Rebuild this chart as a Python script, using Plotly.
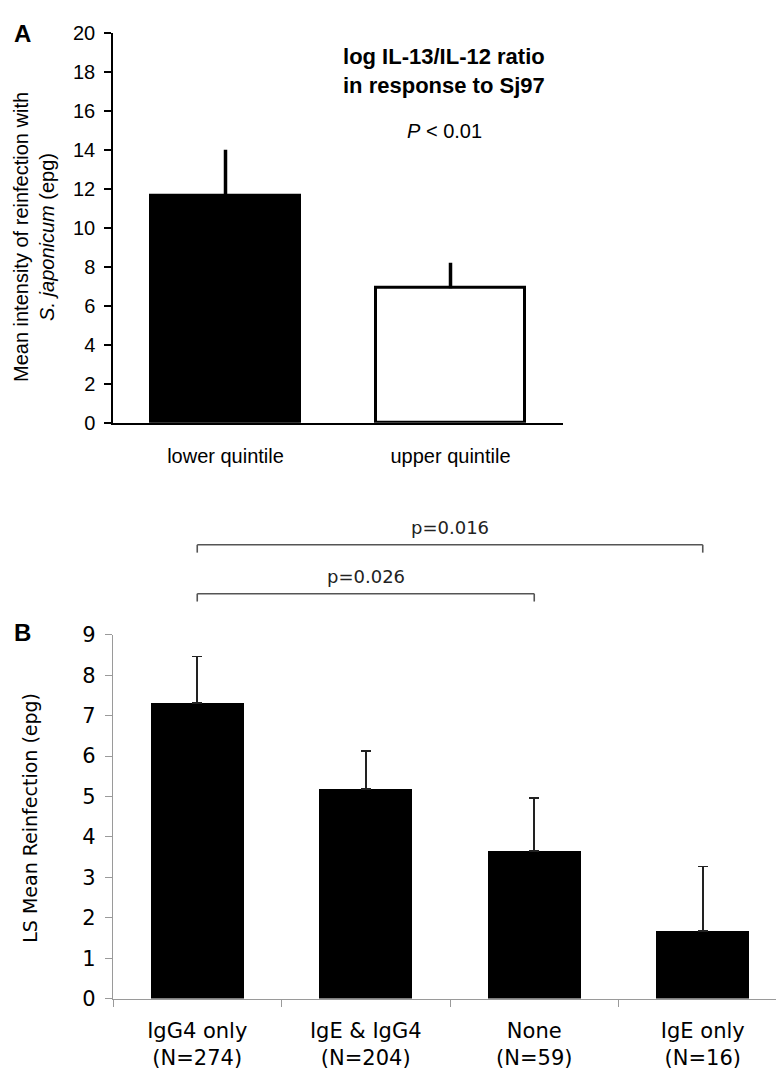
import plotly.graph_objects as go

# ---------------- data ----------------
cats_a = ["lower quintile", "upper quintile"]
mean_a = [11.65, 6.9]
err_top_a = [14.0, 8.2]

cats_b = ["IgG4 only<br>(N=274)", "IgE &amp; IgG4<br>(N=204)", "None<br>(N=59)", "IgE only<br>(N=16)"]
mean_b = [7.32, 5.18, 3.65, 1.68]
err_top_b = [8.47, 6.12, 4.97, 3.27]

# brackets: (from category index, to category index, label, height in panel-B units)
brackets = [(0, 3, "p=0.016", 11.23), (0, 2, "p=0.026", 10.02)]

W, H = 784, 1072
def px(x):
    return x / W
def py(y):
    return 1 - y / H

A_dom_x = [px(105), px(555)]
A_dom_y = [py(412), py(13)]
B_dom_x = [px(105), px(779)]
B_dom_y = [py(1001), py(629)]
B_range = [0, 9]

fig = go.Figure()

fig.add_trace(go.Bar(
    x=cats_a, y=mean_a, xaxis="x", yaxis="y", width=0.66,
    marker=dict(color=["black", "white"], line=dict(color="black", width=3)),
    error_y=dict(type="data", symmetric=False,
                 array=[t - m for t, m in zip(err_top_a, mean_a)],
                 arrayminus=[0] * len(mean_a), thickness=3.5, width=0, color="black"),
    showlegend=False, hoverinfo="skip"))

fig.add_trace(go.Bar(
    x=cats_b, y=mean_b, xaxis="x2", yaxis="y2", width=0.55,
    marker=dict(color="black", line=dict(width=0)),
    error_y=dict(type="data", symmetric=False,
                 array=[t - m for t, m in zip(err_top_b, mean_b)],
                 arrayminus=[0] * len(mean_b), thickness=1.6, width=5, color="#222222"),
    showlegend=False, hoverinfo="skip"))

fa = "Liberation Sans, Arial, sans-serif"
fb = "DejaVu Sans, Verdana, sans-serif"

fig.update_layout(
    width=W, height=H, margin=dict(l=0, r=0, t=0, b=0),
    paper_bgcolor="white", plot_bgcolor="white",
    bargap=0,
    xaxis=dict(domain=A_dom_x, anchor="y", range=[-0.5, 1.5], type="category",
               showline=True, linecolor="black", linewidth=1.5, ticks="",
               tickfont=dict(family=fa, size=20, color="black"),
               ticklabelstandoff=14, showgrid=False, zeroline=False),
    yaxis=dict(domain=A_dom_y, anchor="x", range=[0, 20], dtick=2,
               showline=True, linecolor="black", linewidth=1.5,
               ticks="outside", ticklen=7, tickwidth=1.5, tickcolor="black",
               ticklabelstandoff=5,
               tickfont=dict(family=fa, size=20, color="black"),
               showgrid=False, zeroline=False),
    xaxis2=dict(domain=B_dom_x, anchor="y2", range=[-0.5, 3.5], type="category",
                showline=True, linecolor="#9a9a9a", linewidth=1.2,
                ticks="outside", ticklen=7, tickwidth=1.2, tickcolor="#9a9a9a",
                tickson="boundaries", ticklabelstandoff=13,
                tickfont=dict(family=fb, size=21, color="black"),
                showgrid=False, zeroline=False),
    yaxis2=dict(domain=B_dom_y, anchor="x2", range=B_range, dtick=1,
                showline=True, linecolor="#9a9a9a", linewidth=1.2,
                ticks="outside", ticklen=7, tickwidth=1.2, tickcolor="#9a9a9a",
                ticklabelstandoff=5,
                tickfont=dict(family=fb, size=21, color="black"),
                showgrid=False, zeroline=False),
)

annotations = []
# panel letters
annotations.append(dict(text="<b>A</b>", x=px(4), y=py(14), xref="paper", yref="paper",
                        xanchor="left", yanchor="middle", showarrow=False,
                        font=dict(family=fa, size=24, color="black")))
annotations.append(dict(text="<b>B</b>", x=px(4), y=py(627), xref="paper", yref="paper",
                        xanchor="left", yanchor="middle", showarrow=False,
                        font=dict(family=fa, size=24, color="black")))
# panel A title and p value
annotations.append(dict(text="<b>log IL-13/IL-12 ratio</b><br><b>in response to Sj97</b>",
                        x=px(436), y=py(52), xref="paper", yref="paper",
                        xanchor="center", yanchor="middle", showarrow=False,
                        font=dict(family=fa, size=22, color="black")))
annotations.append(dict(text="<i>P</i> &lt; 0.01", x=px(436), y=py(114), xref="paper", yref="paper",
                        xanchor="center", yanchor="middle", showarrow=False,
                        font=dict(family=fa, size=20, color="black")))
# y titles
annotations.append(dict(text="Mean intensity of reinfection with<br><i>S. japonicum</i> (epg)",
                        x=px(26), y=py(222), xref="paper", yref="paper", textangle=-90,
                        xanchor="center", yanchor="middle", showarrow=False,
                        font=dict(family=fa, size=20, color="black")))
annotations.append(dict(text="LS Mean Reinfection (epg)",
                        x=px(22), y=py(816), xref="paper", yref="paper", textangle=-90,
                        xanchor="center", yanchor="middle", showarrow=False,
                        font=dict(family=fb, size=19, color="black")))

shapes = []
def b_paper(v):
    return B_dom_y[0] + (v - B_range[0]) / (B_range[1] - B_range[0]) * (B_dom_y[1] - B_dom_y[0])

tick_drop = 8 / H
for i0, i1, label, h in brackets:
    yb = b_paper(h)
    shapes.append(dict(type="line", xref="x2", yref="paper", x0=i0, x1=i1, y0=yb, y1=yb,
                       line=dict(color="#555555", width=1.6)))
    shapes.append(dict(type="line", xref="x2", yref="paper", x0=i0, x1=i0, y0=yb, y1=yb - tick_drop,
                       line=dict(color="#555555", width=1.6)))
    shapes.append(dict(type="line", xref="x2", yref="paper", x0=i1, x1=i1, y0=yb, y1=yb - tick_drop,
                       line=dict(color="#555555", width=1.6)))
    annotations.append(dict(text=label, x=(i0 + i1) / 2, xref="x2", y=yb + 18 / H, yref="paper",
                            xanchor="center", yanchor="middle", showarrow=False,
                            font=dict(family=fb, size=18, color="#222222")))

fig.update_layout(annotations=annotations, shapes=shapes)
fig.write_html("out.html")
